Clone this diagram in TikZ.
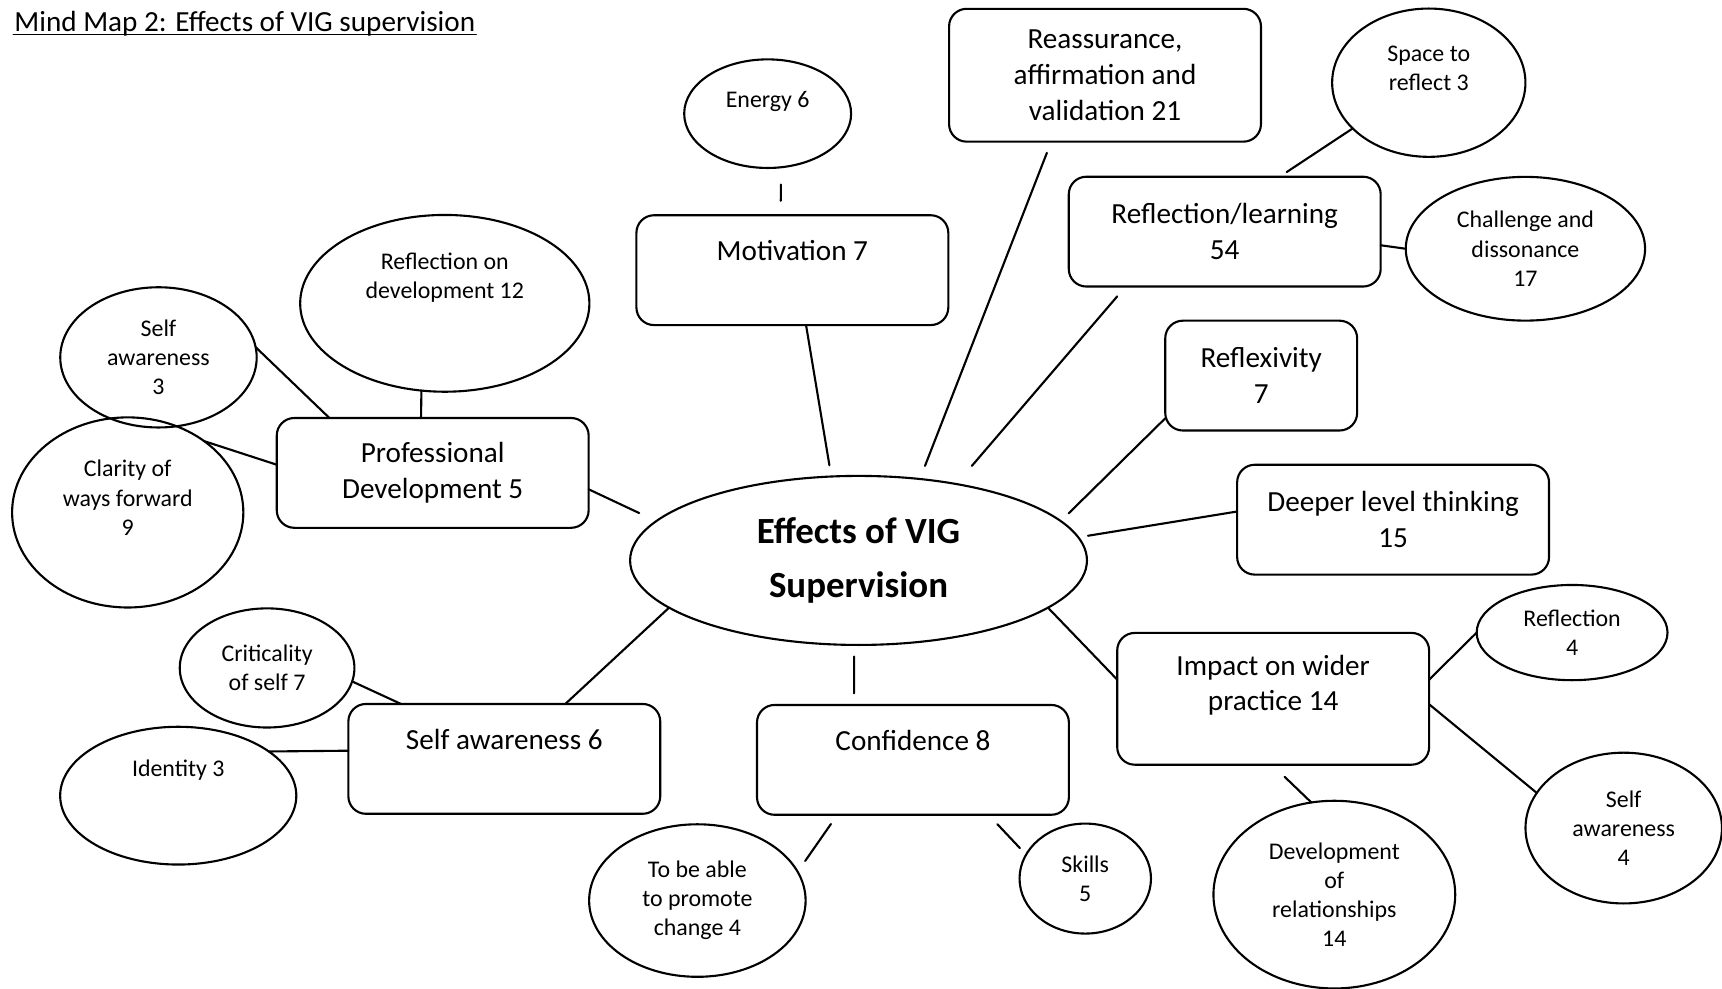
\documentclass[tikz,border=0pt]{standalone}
\usepackage{fontspec}
\setmainfont{Carlito}
\usetikzlibrary{shapes.geometric}

\begin{document}
\begin{tikzpicture}[x=0.3125pt, y=-0.3125pt, line join=round, line cap=round, line width=0.6pt,
	box/.style={draw, rectangle, rounded corners=5pt, align=center, inner sep=2pt, outer sep=0pt,
		minimum width=88.75pt, minimum height=31.25pt, font=\fontsize{8.3}{10.15}\selectfont},
	bubble/.style={draw, ellipse, align=center, inner sep=0pt, outer sep=0pt, font=\fontsize{6.8}{8.3}\selectfont},
	ell/.style 2 args={minimum width=#1pt, minimum height=#2pt}]
	\useasboundingbox (0,0) rectangle (1568,900);
	% title
	\node[anchor=base west, inner sep=0pt, font=\fontsize{8.3}{10.15}\selectfont] (title) at (12.2,28.8) {Mind Map 2: Effects of VIG supervision};
	\draw[line width=0.5pt] ([yshift=-0.8pt]title.base west) -- ([yshift=-0.8pt]title.base east);
	% centre
	\node[bubble, ell={130}{48.1}, font=\fontsize{10.5}{15.2}\selectfont\bfseries] (ctr) at (781.75,510.3) {Effects of VIG\\Supervision};
	% boxes
	\node[box, minimum height=37.8pt] (reas) at (1006.2,68.5) {Reassurance,\\affirmation and\\validation 21};
	\node[box] (motiv) at (721.5,246) {Motivation 7\\[1pt]~};
	\node[box] (refl) at (1115.2,210.9) {Reflection/learning\\54};
	\node[box, minimum width=54.6pt] (reflex) at (1148.4,342) {Reflexivity\\7};
	\node[box] (deeper) at (1268.5,473.2) {Deeper level thinking\\15};
	\node[box, minimum height=37.5pt] (impact) at (1159.3,636.3) {Impact on wider\\practice 14\\[-1pt]~};
	\node[box] (conf) at (831.3,691.9) {Confidence 8\\[1pt]~};
	\node[box] (selfsix) at (459.2,691) {Self awareness 6\\[1pt]~};
	\node[box] (profdev) at (394,430.6) {Professional\\Development 5};
	% bubbles
	\node[bubble, ell={47.5}{30.9}] (energy) at (699,103.5) {Energy 6\\~};
	\node[bubble, ell={55}{42.2}] (space) at (1301,75.3) {Space to\\reflect 3\\~};
	\node[bubble, ell={68.1}{40.9}] (chall) at (1389,226.5) {Challenge and\\dissonance\\17};
	\node[bubble, ell={82.3}{50.3}] (refldev) at (405,276.2) {Reflection on\\development 12\\[7.5pt]~};
	\node[bubble, ell={55.9}{39.9}] (selfthree) at (144.3,325.4) {Self\\awareness\\3};
	\node[bubble, ell={65.8}{54.1}] (clarity) at (116.3,466.6) {Clarity of\\ways forward\\9\\~};
	\node[bubble, ell={49.7}{33.9}] (crit) at (243.2,608.2) {Criticality\\of self 7};
	\node[bubble, ell={67.2}{39.2}] (identity) at (162.3,724.5) {Identity 3\\[7.5pt]~};
	\node[bubble, ell={61.6}{43.4}] (promote) at (635,820) {To be able\\to promote\\change 4};
	\node[bubble, ell={37.4}{31.3}] (skills) at (988.2,800) {Skills\\5};
	\node[bubble, ell={68.8}{53.4}] (devrel) at (1215,814.6) {Development\\of\\relationships\\14};
	\node[bubble, ell={54.3}{27.1}] (reflfour) at (1431.5,576) {Reflection\\4};
	\node[bubble, ell={55.9}{42.9}] (selffour) at (1478.5,754) {Self\\awareness\\4};
	% links
	\draw[shorten <=4.9pt, shorten >=4.1pt] (energy.-76) -- (motiv.102);
	\draw[shorten >=3.25pt] (motiv.-76.5) -- (ctr.108.2);
	\draw[shorten <=3.4pt, shorten >=4pt] (reas.-129.6) -- (ctr.53.4);
	\draw[shorten <=3.7pt, shorten >=6.8pt] (refl.-151.2) -- (ctr.38.3);
	\draw[shorten >=2.4pt] (space.-149.1) -- (refl.45.9);
	\draw (refl.-5.3) -- (chall.180);
	\draw[shorten >=3.1pt] (reflex.-156.5) -- (ctr.11.1);
	\draw[shorten >=2.8pt] (deeper.177.5) -- (ctr.6.7);
	\draw (ctr.-14.4) -- (impact.173.2);
	\draw (impact.7) -- (reflfour.180);
	\draw (impact.-2.3) -- (selffour.158.2);
	\draw[shorten <=5pt] (impact.-91.6) -- (devrel.104.6);
	\draw[shorten <=3.3pt, shorten >=3.3pt] (ctr.-93.8) -- (conf.137.3);
	\draw[shorten <=3.2pt, shorten >=3.75pt] (conf.-144.5) -- (promote.16.4);
	\draw[shorten <=3.7pt, shorten >=2.6pt] (conf.-36.7) -- (skills.158.2);
	\draw (ctr.-166.9) -- (selfsix.42.5);
	\draw (crit.-9) -- (selfsix.152.7);
	\draw (identity.26) -- (selfsix.177.3);
	\draw[shorten >=5.4pt] (profdev.-6) -- (ctr.169.4);
	\draw (refldev.-105.5) -- (profdev.102.3);
	\draw (selfthree.6.9) -- (profdev.152.8);
	\draw (clarity.43.8) -- (profdev.177.4);
\end{tikzpicture}
\end{document}
